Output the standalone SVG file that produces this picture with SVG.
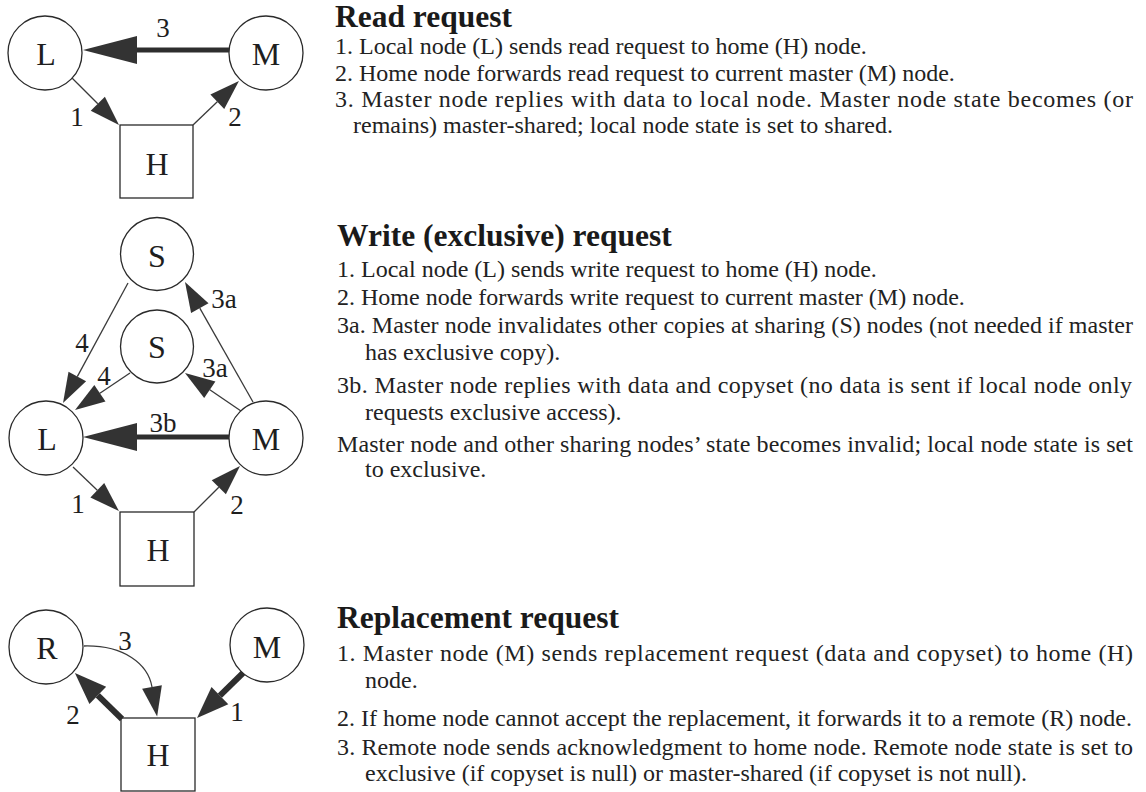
<svg xmlns="http://www.w3.org/2000/svg" width="1146" height="792" viewBox="0 0 1146 792">
  <style>
    .node { fill: #fff; stroke: #2a2a2a; stroke-width: 1.3; }
    .nlabel { font-family: "Liberation Serif", "Times New Roman", serif; font-size: 32px; fill: #1e1e1e; text-anchor: middle; }
    .elabel { font-family: "Liberation Serif", "Times New Roman", serif; font-size: 27px; fill: #1e1e1e; text-anchor: middle; }
    .thin { stroke: #3a3a3a; stroke-width: 1.3; fill: none; marker-end: url(#headThin); }
    .bold { stroke: #2e2e2e; stroke-width: 5; fill: none; marker-end: url(#headBig); }
    .boldShort { stroke: #2e2e2e; stroke-width: 6; fill: none; marker-end: url(#headMid); }
    .title { font-family: "Liberation Serif", "Times New Roman", serif; font-size: 31.5px; font-weight: bold; fill: #1a1a1a; }
    .body { font-family: "Liberation Serif", "Times New Roman", serif; font-size: 24px; fill: #222; }
  </style>
  <defs>
    <marker id="headThin" markerUnits="userSpaceOnUse" orient="auto" refX="0" refY="0" markerWidth="40" markerHeight="30" viewBox="0 -15 40 30" overflow="visible">
      <path d="M0,-10 L30,0 L0,10 z" fill="#333"/>
    </marker>
    <marker id="headBig" markerUnits="userSpaceOnUse" orient="auto" refX="0" refY="0" markerWidth="60" markerHeight="32" viewBox="0 -16 60 32" overflow="visible">
      <path d="M0,-14 L54,0 L0,14 z" fill="#333"/>
    </marker>
    <marker id="headMid" markerUnits="userSpaceOnUse" orient="auto" refX="0" refY="0" markerWidth="40" markerHeight="30" viewBox="0 -15 40 30" overflow="visible">
      <path d="M0,-12 L32,0 L0,12 z" fill="#333"/>
    </marker>
  </defs>

  <rect width="1146" height="792" fill="#fff"/>

  <!-- Read request: nodes -->
  <g id="read-L"><circle class="node" cx="45" cy="53" r="37"/><text class="nlabel" x="46" y="65">L</text></g>
  <g id="read-M"><circle class="node" cx="266" cy="53" r="37"/><text class="nlabel" x="266" y="65">M</text></g>
  <g id="read-H"><rect class="node" x="120" y="125" width="73" height="73"/><text class="nlabel" x="157" y="175">H</text></g>

  <!-- Write request: nodes -->
  <g id="write-S1"><circle class="node" cx="157" cy="254" r="36.5"/><text class="nlabel" x="157" y="267">S</text></g>
  <g id="write-S2"><circle class="node" cx="157" cy="346.5" r="36.5"/><text class="nlabel" x="157" y="358">S</text></g>
  <g id="write-L"><circle class="node" cx="46" cy="438" r="37"/><text class="nlabel" x="47" y="450">L</text></g>
  <g id="write-M"><circle class="node" cx="266" cy="438" r="37"/><text class="nlabel" x="266" y="450">M</text></g>
  <g id="write-H"><rect class="node" x="120" y="512" width="74" height="74"/><text class="nlabel" x="158" y="561">H</text></g>

  <!-- Replacement request: nodes -->
  <g id="repl-R"><circle class="node" cx="46" cy="647" r="37"/><text class="nlabel" x="47" y="659">R</text></g>
  <g id="repl-M"><circle class="node" cx="267" cy="645" r="37"/><text class="nlabel" x="267" y="658">M</text></g>
  <g id="repl-H"><rect class="node" x="121" y="718" width="74" height="73"/><text class="nlabel" x="158" y="766">H</text></g>

  <!-- Connectors -->
  <g id="connectors">
    <!-- read -->
    <line class="thin" x1="72" y1="78" x2="97.8" y2="103.8"/>
    <line class="thin" x1="193" y1="125" x2="217.3" y2="101.7"/>
    <line class="bold" x1="229" y1="50" x2="137" y2="50"/>
    <!-- write -->
    <line class="thin" x1="73" y1="467" x2="97.3" y2="490.3"/>
    <line class="thin" x1="194" y1="512" x2="218.8" y2="487.2"/>
    <line class="bold" x1="229" y1="437" x2="137" y2="437"/>
    <line class="thin" x1="128" y1="283" x2="77.3" y2="376.6"/>
    <line class="thin" x1="130" y1="373" x2="99.9" y2="393.3"/>
    <line class="thin" x1="253" y1="402" x2="199.8" y2="308.1"/>
    <line class="thin" x1="241" y1="411" x2="209.8" y2="389.8"/>
    <!-- replacement -->
    <line class="boldShort" x1="122" y1="719" x2="97.8" y2="695.4"/>
    <line class="boldShort" x1="243" y1="673" x2="219.9" y2="695.6"/>
    <path class="thin" d="M84,646 C124,645 148,664 152,687"/>

    <!-- connector labels -->
    <text class="elabel" x="163" y="37">3</text>
    <text class="elabel" x="77" y="126">1</text>
    <text class="elabel" x="235" y="126">2</text>

    <text class="elabel" x="163" y="432">3b</text>
    <text class="elabel" x="78" y="513">1</text>
    <text class="elabel" x="237" y="514">2</text>
    <text class="elabel" x="82" y="352">4</text>
    <text class="elabel" x="104" y="385">4</text>
    <text class="elabel" x="224" y="308">3a</text>
    <text class="elabel" x="215" y="377">3a</text>

    <text class="elabel" x="73" y="724">2</text>
    <text class="elabel" x="237" y="721">1</text>
    <text class="elabel" x="125" y="650">3</text>
  </g>

  <!-- Descriptions -->
  <g id="read-text">
    <text class="title" x="335" y="27">Read request</text>
    <text class="body" x="335" y="54">1. Local node (L) sends read request to home (H) node.</text>
    <text class="body" x="335" y="81">2. Home node forwards read request to current master (M) node.</text>
    <text class="body" x="335" y="107" textLength="798" lengthAdjust="spacing">3. Master node replies with data to local node. Master node state becomes (or</text>
    <text class="body" x="353" y="133">remains) master-shared; local node state is set to shared.</text>
  </g>

  <g id="write-text">
    <text class="title" x="337" y="246">Write (exclusive) request</text>
    <text class="body" x="337" y="277">1. Local node (L) sends write request to home (H) node.</text>
    <text class="body" x="337" y="305">2. Home node forwards write request to current master (M) node.</text>
    <text class="body" x="337" y="333" textLength="796" lengthAdjust="spacing">3a. Master node invalidates other copies at sharing (S) nodes (not needed if master</text>
    <text class="body" x="365" y="360">has exclusive copy).</text>
    <text class="body" x="337" y="393" textLength="795" lengthAdjust="spacing">3b. Master node replies with data and copyset (no data is sent if local node only</text>
    <text class="body" x="365" y="420">requests exclusive access).</text>
    <text class="body" x="337" y="452" textLength="796" lengthAdjust="spacing">Master node and other sharing nodes’ state becomes invalid; local node state is set</text>
    <text class="body" x="365" y="477">to exclusive.</text>
  </g>

  <g id="replacement-text">
    <text class="title" x="337" y="628">Replacement request</text>
    <text class="body" x="337" y="661" textLength="796" lengthAdjust="spacing">1. Master node (M) sends replacement request (data and copyset) to home (H)</text>
    <text class="body" x="365" y="688">node.</text>
    <text class="body" x="337" y="726" textLength="795" lengthAdjust="spacing">2. If home node cannot accept the replacement, it forwards it to a remote (R) node.</text>
    <text class="body" x="337" y="755" textLength="796" lengthAdjust="spacing">3. Remote node sends acknowledgment to home node. Remote node state is set to</text>
    <text class="body" x="365" y="781">exclusive (if copyset is null) or master-shared (if copyset is not null).</text>
  </g>
</svg>
